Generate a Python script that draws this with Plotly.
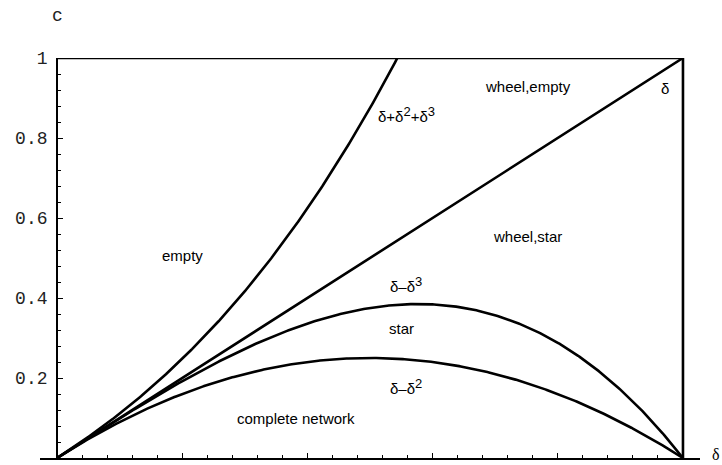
import numpy as np
import plotly.graph_objects as go

# threshold curves c(δ) separating the stable network regions
delta = np.linspace(0.0, 1.0, 401)
upper_root = float([r.real for r in np.roots([1, 1, 1, -1]) if abs(r.imag) < 1e-9][0])
delta_upper = np.linspace(0.0, upper_root, 301)

curve_sum3 = delta_upper + delta_upper**2 + delta_upper**3   # δ+δ²+δ³
curve_linear = delta                                         # δ
curve_cubic = delta - delta**3                               # δ–δ³
curve_square = delta - delta**2                              # δ–δ²

# outer boundaries c = 1 and δ = 1
top_x = [0.0, 1.0]
top_y = [1.0, 1.0]
right_x = [1.0, 1.0]
right_y = [0.0, 1.0]

y_tick_vals = [0.2, 0.4, 0.6, 0.8, 1.0]
y_tick_text = ["0.2", "0.4", "0.6", "0.8", "1"]

region_labels = ["wheel,empty", "wheel,star", "empty", "star", "complete network"]
sup = "<sup><span style='font-size:13px'>{}</span></sup>"
curve_labels = ["δ+δ" + sup.format(2) + "+δ" + sup.format(3), "δ",
                "δ–δ" + sup.format(3), "δ–δ" + sup.format(2)]

line_style = dict(color="black", width=2.6)
fig = go.Figure()
for xs, ys in [(delta_upper, curve_sum3), (delta, curve_linear), (delta, curve_cubic),
               (delta, curve_square), (top_x, top_y), (right_x, right_y)]:
    fig.add_trace(go.Scatter(x=xs, y=ys, mode="lines", line=line_style,
                             showlegend=False, hoverinfo="skip", cliponaxis=False))

x_lo, x_hi = -0.0272, 1.0272
yaxis_pos = -x_lo / (x_hi - x_lo)

text_font = dict(family="Liberation Sans, Arial, sans-serif", size=15, color="black")
label_pos = {
    "wheel,empty": (0.752, 0.93),
    "wheel,star": (0.752, 0.553),
    "empty": (0.2, 0.507),
    "star": (0.551, 0.325),
    "complete network": (0.382, 0.1),
}
for name in region_labels:
    x, y = label_pos[name]
    fig.add_annotation(x=x, y=y, text=name, showarrow=False, font=text_font)

curve_pos = [(0.558, 0.86), (0.971, 0.925), (0.558, 0.433), (0.558, 0.178)]
for txt, (x, y) in zip(curve_labels, curve_pos):
    fig.add_annotation(x=x, y=y, text=txt, showarrow=False, font=text_font)

mono = dict(family="Liberation Mono, Courier New, monospace", size=18, color="#222222")
fig.add_annotation(xref="paper", yref="paper", x=yaxis_pos, y=1.105, text="c",
                   showarrow=False, font=mono, xanchor="center", yanchor="middle")
fig.add_annotation(xref="paper", yref="paper", x=1.016, y=-0.016, text="δ",
                   showarrow=False, font=dict(family="Liberation Serif, serif", size=16, color="black"),
                   xanchor="left", yanchor="bottom", borderpad=0)

fig.update_layout(
    width=722, height=465,
    margin=dict(l=40, r=22, t=58, b=7),
    paper_bgcolor="white", plot_bgcolor="white",
    xaxis=dict(range=[x_lo, x_hi], showgrid=False, zeroline=False,
               showline=True, linecolor="black", linewidth=1.8,
               ticks="inside", tick0=0, dtick=0.2, ticklen=5, tickwidth=1.2, tickcolor="black",
               showticklabels=False,
               minor=dict(ticks="inside", tick0=0, dtick=0.04, ticklen=3, tickwidth=1, tickcolor="black")),
    yaxis=dict(range=[0, 1], showgrid=False, zeroline=False, anchor="free", position=yaxis_pos,
               showline=True, linecolor="black", linewidth=1.8,
               ticks="inside", tickvals=y_tick_vals, ticktext=y_tick_text,
               ticklen=5, tickwidth=1.2, tickcolor="black", tickfont=mono,
               ticklabelstandoff=5,
               minor=dict(ticks="inside", tickvals=[round(0.04 * i, 2) for i in range(26)],
                          ticklen=3, tickwidth=1, tickcolor="black")),
)

fig.write_html("out.html")
